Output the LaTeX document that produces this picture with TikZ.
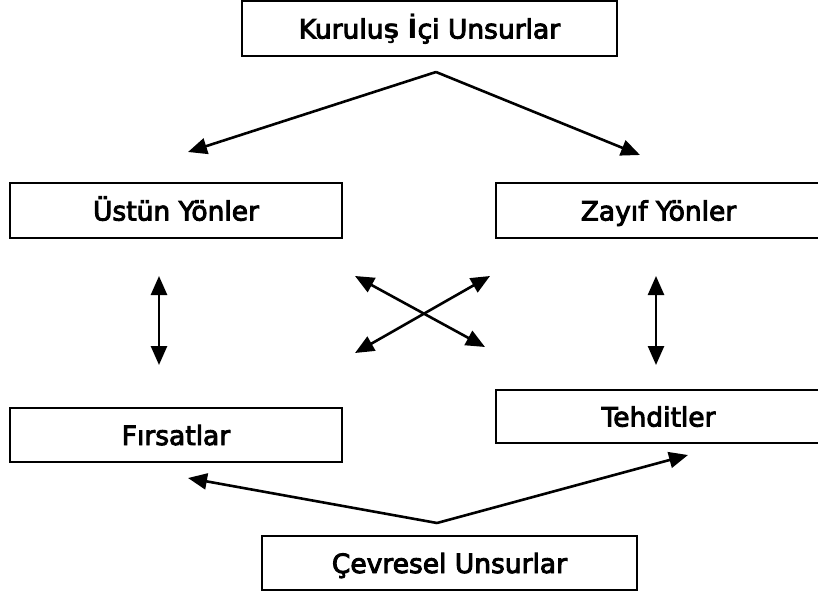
\documentclass[tikz,border=0pt]{standalone}
\usepackage{fontspec}
\setmainfont{DejaVu Sans}
\newfontfamily\semifont[FakeBold=3.5]{DejaVu Sans}
\usetikzlibrary{arrows.meta}
\begin{document}
\begin{tikzpicture}[x=1pt,y=-1pt,
  box/.style={draw=black,line width=2pt,inner sep=0pt,anchor=center,
    text height=20pt,text depth=0pt,
    font=\semifont\fontsize{26.5}{30}\selectfont},
  conn/.style={line width=2.6pt,-{Triangle[length=19pt,width=16pt]}},
  dconn/.style={line width=2.6pt,{Triangle[length=19pt,width=16pt]}-{Triangle[length=19pt,width=16pt]}}]
\useasboundingbox (0,0) rectangle (818,593);
\node[box,minimum width=375pt,minimum height=55pt] (ic) at (429.5,28.5) {Kurulu{\normalfont\bfseries\fontsize{26.5}{30}\selectfont ş} {\normalfont\bfseries\fontsize{26.5}{30}\selectfont İ}çi Unsurlar};
\node[box,minimum width=332pt,minimum height=55pt] (us) at (176,210.5) {Üstün Yönler};
\node[box,minimum width=325pt,minimum height=55pt] (za) at (658.5,210.5) {Zayıf Yönler};
\node[box,minimum width=332pt,minimum height=54pt] (fi) at (176,435) {Fırsatlar};
\node[box,minimum width=325pt,minimum height=53pt] (te) at (658.5,416.5) {Tehditler};
\node[box,minimum width=375pt,minimum height=54pt] (ce) at (449.5,563) {Çevresel Unsurlar};
\coordinate (tj) at (436,72);
\coordinate (tl) at (188,152);
\coordinate (tr) at (640,155);
\draw[conn] (tj) -- (tl);
\draw[conn] (tj) -- (tr);
\coordinate (v1a) at (159,276);
\coordinate (v1b) at (159,365);
\coordinate (v2a) at (656,276);
\coordinate (v2b) at (656,365);
\draw[dconn] (v1a) -- (v1b);
\draw[dconn] (v2a) -- (v2b);
\coordinate (c1a) at (355,276);
\coordinate (c1b) at (485,347);
\coordinate (c2a) at (490,276);
\coordinate (c2b) at (355,353);
\draw[dconn] (c1a) -- (c1b);
\draw[dconn] (c2a) -- (c2b);
\coordinate (bj) at (437,523);
\coordinate (bl) at (188,478);
\coordinate (br) at (688,455);
\draw[conn] (bj) -- (bl);
\draw[conn] (bj) -- (br);
\end{tikzpicture}
\end{document}
